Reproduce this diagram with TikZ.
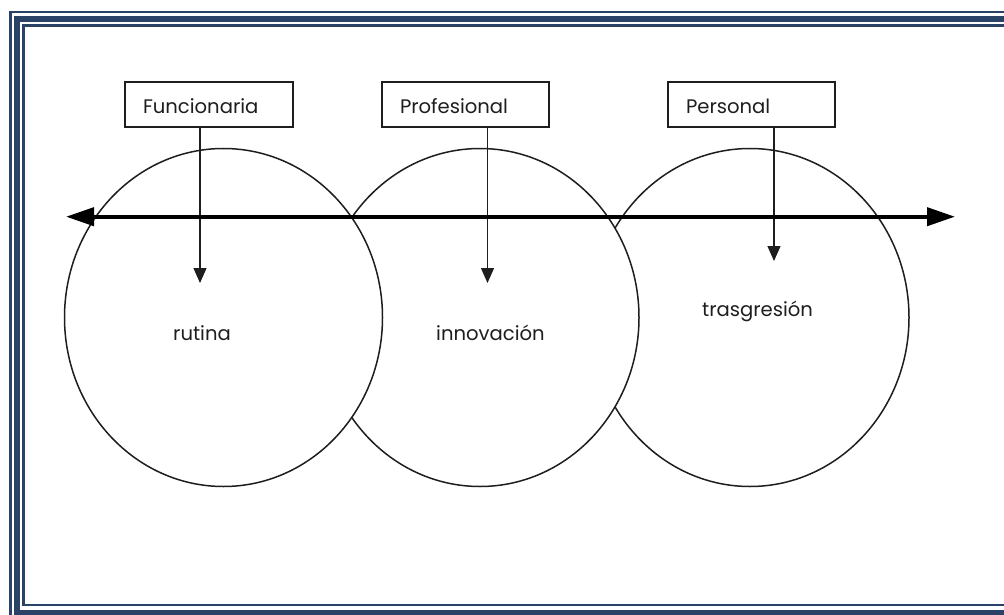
\documentclass[tikz,border=0pt]{standalone}
\usepackage{fontspec}
\setmainfont{Poppins}
\usetikzlibrary{arrows.meta,shapes.geometric}
\definecolor{frameblue}{RGB}{41,66,102}
\definecolor{ink}{RGB}{30,30,30}
\begin{document}
\begin{tikzpicture}[x=1pt,y=-1pt,
  lab/.style={font=\fontsize{19.6}{22}\selectfont, text=ink},
  tagbox/.style={draw=ink, line width=1.3pt, anchor=north west, outer sep=0pt,
    minimum height=45pt, inner xsep=18pt, text width=131pt, align=left, lab,
    text height=18pt, text depth=0pt},
  ring/.style={ellipse, draw=ink, line width=1.5pt, fill=white, outer sep=0pt,
    minimum width=318pt, minimum height=338pt, inner sep=0pt},
  pointer/.style={draw=ink, line width=1.3pt, -{Triangle[length=15pt,width=13pt]}},
  axis/.style={draw=black, line width=4pt,
    {Triangle[length=28pt,width=18pt]}-{Triangle[length=28pt,width=18pt]}},
  frameline/.style={draw=frameblue}]
\clip (0,0) rectangle (1004,615);
\fill[white] (0,0) rectangle (1004,615);
% page border (thin - thick - thin)
\draw[frameline, line width=2.8pt] (1020,12) -- (10.5,12) -- (10.5,619) -- (1020,619);
\draw[frameline, line width=5.8pt] (1020,18.9) -- (17,18.9) -- (17,612.5) -- (1020,612.5);
\draw[frameline, line width=2.8pt] (1020,25.3) -- (23.5,25.3) -- (23.5,605) -- (1020,605);
% circles
\node[ring] (c3) at (750,317.5) {};
\node[ring] (c2) at (480,317.5) {};
\node[ring] (c1) at (223.5,317.5) {};
% boxes
\node[tagbox, text width=132pt] (f) at (125,82) {Funcionaria};
\node[tagbox] (p) at (382,82) {Profesional};
\node[tagbox] (q) at (668,82) {Personal};
% pointers
\coordinate (tip1) at (200,283);
\coordinate (tip2) at (487.5,283);
\coordinate (tip3) at (774,261);
\draw[pointer] (f.south -| tip1) -- (tip1);
\draw[pointer] (p.south -| tip2) -- (tip2);
\draw[pointer] (q.south -| tip3) -- (tip3);
% axis
\coordinate (aL) at (66,216.7);
\coordinate (aR) at (955,216.7);
\draw[axis] (aL) -- (aR);
% texts
\node[lab, anchor=base west, inner sep=0pt] (t1) at (173,340) {rutina};
\node[lab, anchor=base west, inner sep=0pt] (t2) at (436,340) {innovación};
\node[lab, anchor=base west, inner sep=0pt] (t3) at (702,316.7) {trasgresión};
\end{tikzpicture}
\end{document}
